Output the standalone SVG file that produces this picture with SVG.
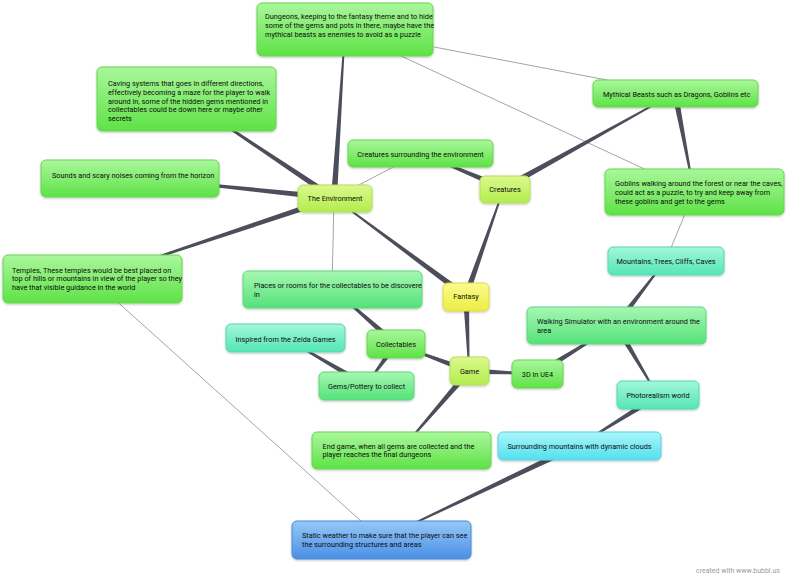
<svg xmlns="http://www.w3.org/2000/svg" width="789" height="580" viewBox="0 0 789 580">
<defs>
<linearGradient id="gGreen" x1="0" y1="0" x2="0" y2="1"><stop offset="0" stop-color="#aaf79c"/><stop offset="1" stop-color="#5ee246"/></linearGradient>
<linearGradient id="gLime" x1="0" y1="0" x2="0" y2="1"><stop offset="0" stop-color="#dcf98c"/><stop offset="1" stop-color="#b2ec4e"/></linearGradient>
<linearGradient id="gYellow" x1="0" y1="0" x2="0" y2="1"><stop offset="0" stop-color="#fbfb90"/><stop offset="1" stop-color="#eded42"/></linearGradient>
<linearGradient id="gMint" x1="0" y1="0" x2="0" y2="1"><stop offset="0" stop-color="#a6f7b2"/><stop offset="1" stop-color="#54e27a"/></linearGradient>
<linearGradient id="gTeal" x1="0" y1="0" x2="0" y2="1"><stop offset="0" stop-color="#a2f7da"/><stop offset="1" stop-color="#54e6b4"/></linearGradient>
<linearGradient id="gCyan" x1="0" y1="0" x2="0" y2="1"><stop offset="0" stop-color="#aaf6fa"/><stop offset="1" stop-color="#54dfee"/></linearGradient>
<linearGradient id="gBlue" x1="0" y1="0" x2="0" y2="1"><stop offset="0" stop-color="#96c8f8"/><stop offset="1" stop-color="#4a8fe6"/></linearGradient>
<filter id="sh" x="-10%" y="-20%" width="120%" height="150%"><feDropShadow dx="0" dy="1" stdDeviation="1" flood-color="#000" flood-opacity="0.25"/></filter>
<clipPath id="clipPlaces"><rect x="243" y="271" width="179" height="37"/></clipPath>
<style>
.n rect{rx:5;ry:5;filter:url(#sh);stroke-width:1}
.green rect{fill:url(#gGreen);stroke:#66d84e}
.lime rect{fill:url(#gLime);stroke:#b4e05a}
.yellow rect{fill:url(#gYellow);stroke:#dcdc4a}
.mint rect{fill:url(#gMint);stroke:#5ed87c}
.teal rect{fill:url(#gTeal);stroke:#5ad8b0}
.cyan rect{fill:url(#gCyan);stroke:#5ad2e2}
.blue rect{fill:url(#gBlue);stroke:#4a8ad8}
text{font-family:Roboto,"Liberation Sans",sans-serif;font-size:7.3px;fill:#0d0d0d}
.c{text-anchor:middle}
.t{fill:#4c4f5b}
.x{stroke:#a4a4a4;stroke-width:1;fill:none}
.credit{fill:#9a9a9a;font-size:7px}
</style>
</defs>
<rect width="789" height="580" fill="#ffffff"/>
<g id="connectors">
<line class="x" x1="345" y1="30" x2="675" y2="93"/>
<line class="x" x1="345" y1="30" x2="694" y2="192"/>
<line class="x" x1="334" y1="198" x2="420" y2="153"/>
<line class="x" x1="334" y1="198" x2="332" y2="288"/>
<line class="x" x1="92" y1="279" x2="381" y2="539"/>
<line class="x" x1="694" y1="192" x2="666" y2="260"/>
<polygon class="t" points="0,-3 164.4,-0.6 164.4,0.6 0,3" transform="translate(466,296) rotate(-143.41)"/>
<polygon class="t" points="0,-3 114.5,-0.6 114.5,0.6 0,3" transform="translate(466,296) rotate(-70.62)"/>
<polygon class="t" points="0,-3 75.06,-0.6 75.06,0.6 0,3" transform="translate(466,296) rotate(87.71)"/>
<polygon class="t" points="0,-3 168.36,-0.6 168.36,0.6 0,3" transform="translate(334,198) rotate(-86.25)"/>
<polygon class="t" points="0,-3 178.06,-0.6 178.06,0.6 0,3" transform="translate(334,198) rotate(-146.22)"/>
<polygon class="t" points="0,-3 204.08,-0.6 204.08,0.6 0,3" transform="translate(334,198) rotate(-174.09)"/>
<polygon class="t" points="0,-3 255.2,-0.6 255.2,0.6 0,3" transform="translate(334,198) rotate(161.5)"/>
<polygon class="t" points="0,-3 91,-0.6 91,0.6 0,3" transform="translate(504,188) rotate(-157.38)"/>
<polygon class="t" points="0,-3 195.6,-0.6 195.6,0.6 0,3" transform="translate(504,188) rotate(-29.05)"/>
<polygon class="t" points="0,-3 100.8,-0.6 100.8,0.6 0,3" transform="translate(675,93) rotate(79.14)"/>
<polygon class="t" points="0,-3 68.07,-0.6 68.07,0.6 0,3" transform="translate(469,371) rotate(2.53)"/>
<polygon class="t" points="0,-3 77.83,-0.6 77.83,0.6 0,3" transform="translate(469,371) rotate(-159.7)"/>
<polygon class="t" points="0,-3 104.2,-0.6 104.2,0.6 0,3" transform="translate(469,371) rotate(130.72)"/>
<polygon class="t" points="0,-3 92.96,-0.6 92.96,0.6 0,3" transform="translate(537,374) rotate(-31.81)"/>
<polygon class="t" points="0,-3 82,-0.6 82,0.6 0,3" transform="translate(616,325) rotate(-52.43)"/>
<polygon class="t" points="0,-3 82.49,-0.6 82.49,0.6 0,3" transform="translate(616,325) rotate(59.39)"/>
<polygon class="t" points="0,-3 92.96,-0.6 92.96,0.6 0,3" transform="translate(658,396) rotate(148.19)"/>
<polygon class="t" points="0,-3 219.18,-0.6 219.18,0.6 0,3" transform="translate(579,445) rotate(154.6)"/>
<polygon class="t" points="0,-3 85.04,-0.6 85.04,0.6 0,3" transform="translate(396,344) rotate(-138.81)"/>
<polygon class="t" points="0,-3 50.8,-0.6 50.8,0.6 0,3" transform="translate(396,344) rotate(126.19)"/>
<polygon class="t" points="0,-3 93.65,-0.6 93.65,0.6 0,3" transform="translate(366,385) rotate(-149.88)"/>
</g>
<g id="dungeons" class="n green"><rect x="257" y="3" width="176" height="53"/>
<text x="265" y="19.3">Dungeons, keeping to the fantasy theme and to hide</text>
<text x="265" y="28.1">some of the gems and pots in there, maybe have the</text>
<text x="265" y="36.9">mythical beasts as enemies to avoid as a puzzle</text></g>
<g id="caving" class="n green"><rect x="97" y="67" width="179" height="64"/>
<text x="108" y="86">Caving systems that goes in different directions,</text>
<text x="108" y="94.8">effectively becoming a maze for the player to walk</text>
<text x="108" y="103.6">around in, some of the hidden gems mentioned in</text>
<text x="108" y="112.4">collectables could be down here or maybe other</text>
<text x="108" y="121.2">secrets</text></g>
<g id="sounds" class="n green"><rect x="41" y="160" width="178" height="37"/>
<text x="52" y="177.6">Sounds and scary noises coming from the horizon</text></g>
<g id="temples" class="n green"><rect x="3" y="255" width="179" height="48"/>
<text x="12" y="272.6">Temples, These temples would be best placed on</text>
<text x="12" y="281.4">top of hills or mountains in view of the player so they</text>
<text x="12" y="290.2">have that visible guidance in the world</text></g>
<g id="creatures-surrounding" class="n green"><rect x="348" y="140" width="145" height="27"/>
<text class="c" x="420.5" y="156.6">Creatures surrounding the environment</text></g>
<g id="environment" class="n lime"><rect x="298" y="185" width="74" height="27"/>
<text class="c" x="335" y="201">The Environment</text></g>
<g id="creatures" class="n lime"><rect x="480" y="176" width="50" height="27"/>
<text class="c" x="505" y="192">Creatures</text></g>
<g id="mythical" class="n green"><rect x="593" y="80" width="165" height="27"/>
<text x="603" y="97">Mythical Beasts such as Dragons, Goblins etc</text></g>
<g id="goblins" class="n green"><rect x="605" y="169" width="179" height="46"/>
<text x="615" y="186">Goblins walking around the forest or near the caves,</text>
<text x="615" y="195">could act as a puzzle, to try and keep away from</text>
<text x="615" y="204">these goblins and get to the gems</text></g>
<g id="mountains" class="n teal"><rect x="608" y="247" width="116" height="28"/>
<text class="c" x="666" y="263.6">Mountains, Trees, Cliffs, Caves</text></g>
<g id="walking" class="n mint"><rect x="527" y="307" width="179" height="37"/>
<text x="537" y="323.6">Walking Simulator with an environment around the</text>
<text x="537" y="332.6">area</text></g>
<g id="ue4" class="n green"><rect x="512" y="360" width="51" height="28"/>
<text class="c" x="537.5" y="377">3D in UE4</text></g>
<g id="photorealism" class="n teal"><rect x="617" y="381" width="82" height="28"/>
<text class="c" x="658" y="397.6">Photorealism world</text></g>
<g id="fantasy" class="n yellow"><rect x="443" y="283" width="46" height="28"/>
<text class="c" x="466" y="299.3">Fantasy</text></g>
<g id="places" class="n mint"><rect x="243" y="271" width="179" height="37"/>
<g clip-path="url(#clipPlaces)"><text x="254" y="287.6">Places or rooms for the collectables to be discovered</text>
<text x="254" y="296.6">in</text></g></g>
<g id="inspired" class="n teal"><rect x="226" y="324" width="119" height="28"/>
<text class="c" x="285.5" y="341.6">Inspired from the Zelda Games</text></g>
<g id="collectables" class="n green"><rect x="367" y="330" width="58" height="28"/>
<text class="c" x="396" y="347">Collectables</text></g>
<g id="gems" class="n mint"><rect x="319" y="372" width="95" height="28"/>
<text class="c" x="366.5" y="388.6">Gems/Pottery to collect</text></g>
<g id="game" class="n lime"><rect x="450" y="357" width="39" height="28"/>
<text class="c" x="469.5" y="373.6">Game</text></g>
<g id="endgame" class="n green"><rect x="312" y="432" width="179" height="37"/>
<text x="322.5" y="448.6">End game, when all gems are collected and the</text>
<text x="322.5" y="457.3">player reaches the final dungeons</text></g>
<g id="surrounding-mountains" class="n cyan"><rect x="498" y="432" width="163" height="28"/>
<text class="c" x="579.5" y="448.6">Surrounding mountains with dynamic clouds</text></g>
<g id="static-weather" class="n blue"><rect x="292" y="521" width="179" height="38"/>
<text x="302" y="538.3">Static weather to make sure that the player can see</text>
<text x="302" y="547">the surrounding structures and areas</text></g>
<text class="credit" x="696" y="573">created with www.bubbl.us</text>
</svg>
